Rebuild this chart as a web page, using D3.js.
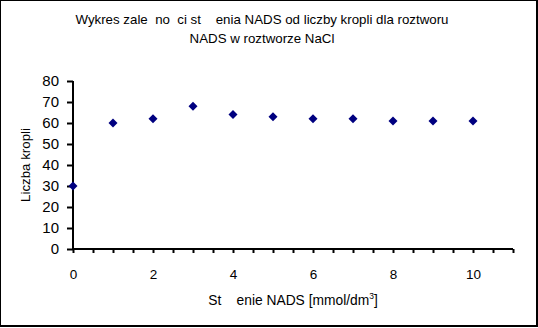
<!DOCTYPE html>
<html>
<head>
<meta charset="utf-8">
<script src="https://cdn.jsdelivr.net/npm/d3@7"></script>
<style>
  html, body { margin: 0; padding: 0; background: #fff; }
  svg text { font-family: "Liberation Sans", Arial, sans-serif; fill: #000; white-space: pre; }
</style>
</head>
<body>
<svg id="chart" width="538" height="328"></svg>
<script>
// Data
const concentrations = [0, 1, 2, 3, 4, 5, 6, 7, 8, 9, 10];
const dropCounts = [30, 60, 62, 68, 64, 63, 62, 62, 61, 61, 61];
const xTickLabels = [0, 2, 4, 6, 8, 10];
const yTickLabels = [0, 10, 20, 30, 40, 50, 60, 70, 80];
const titleLines = ["Wykres zale  no  ci st    enia NADS od liczby kropli dla roztworu", "NADS w roztworze NaCl"];
const xTitle = "St    enie NADS [mmol/dm";
const yTitle = "Liczba kropli";

const svg = d3.select("#chart");

// frame
svg.append("rect").attr("x", 0).attr("y", 0).attr("width", 538).attr("height", 327).attr("fill", "#000");
svg.append("rect").attr("x", 1).attr("y", 1).attr("width", 535).attr("height", 324).attr("fill", "#fff");

const x = d3.scaleLinear().domain([0, 11]).range([73, 513]);
const y = d3.scaleLinear().domain([0, 80]).range([249, 81]);

// X axis
const xTicks = d3.range(0, 11.01, 0.5);
const gx = svg.append("g").attr("transform", "translate(0,249)")
  .call(d3.axisBottom(x).tickValues(xTicks).tickSize(4).tickPadding(16)
    .tickFormat(d => xTickLabels.includes(d) ? String(d) : ""));
gx.select(".domain").attr("stroke", "#000").attr("stroke-width", 2).attr("d", "M73,0H513");
gx.selectAll(".tick line").attr("stroke", "#000").attr("stroke-width", 2);
gx.selectAll(".tick text").attr("font-size", 13.5).attr("font-family", "Liberation Sans, Arial, sans-serif");

// Y axis
const gy = svg.append("g").attr("transform", "translate(73,0)")
  .call(d3.axisLeft(y).tickValues(yTickLabels).tickSize(6).tickPadding(8));
gy.select(".domain").attr("stroke", "#000").attr("stroke-width", 2).attr("d", "M0,81V249");
gy.selectAll(".tick line").attr("stroke", "#000").attr("stroke-width", 2);
gy.selectAll(".tick text").attr("font-size", 15).attr("font-family", "Liberation Sans, Arial, sans-serif");

// points
svg.append("g").selectAll("path").data(concentrations).join("path")
  .attr("transform", (d, i) => `translate(${x(d)},${y(dropCounts[i])})`)
  .attr("d", "M0,-4.5L4.5,0L0,4.5L-4.5,0Z")
  .attr("fill", "#000080");

// title
const title = svg.append("text").attr("x", 262).attr("y", 24).attr("text-anchor", "middle").attr("font-size", 13.3);
titleLines.forEach((t, i) => title.append("tspan").attr("x", 262).attr("dy", i === 0 ? 0 : 18.5).text(t));

// x title
const xt = svg.append("text").attr("x", 293).attr("y", 305).attr("text-anchor", "middle").attr("font-size", 13.8);
xt.append("tspan").text(xTitle);
xt.append("tspan").attr("font-size", 8.5).attr("dy", -6).text("3");
xt.append("tspan").attr("dy", 6).text("]");

// y title
svg.append("text").attr("transform", "translate(30,165) rotate(-90)").attr("text-anchor", "middle").attr("font-size", 13.3).text(yTitle);
</script>
</body>
</html>
